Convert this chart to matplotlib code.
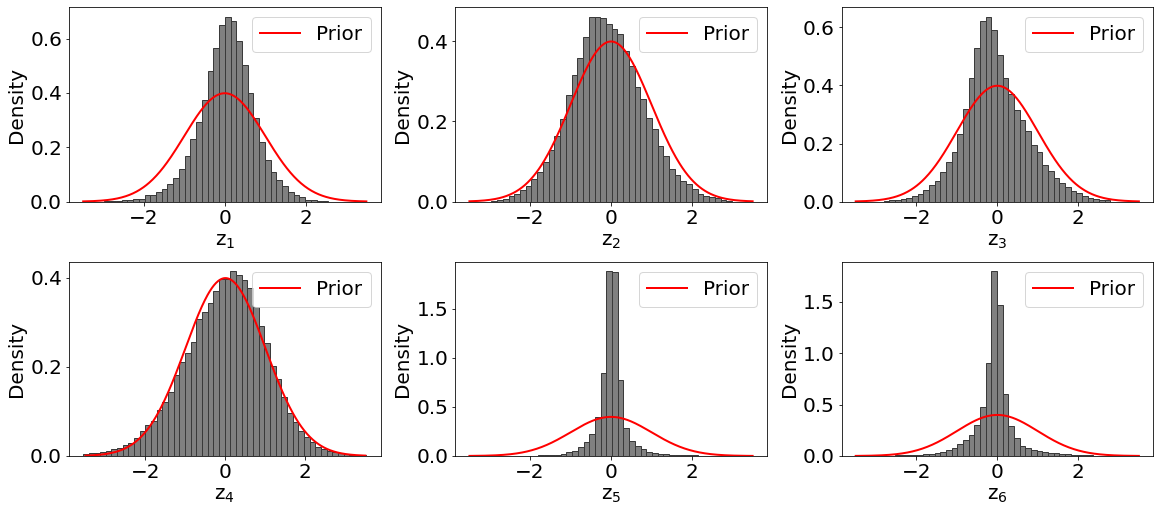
import numpy as np
import matplotlib
matplotlib.use("Agg")
import matplotlib.pyplot as plt

# ---- data ----
labels = ["z$_1$", "z$_2$", "z$_3$", "z$_4$", "z$_5$", "z$_6$"]

bin_start = [-2.975, -2.959, -2.808, -3.559, -1.808, -2.528]
bin_width = [0.1417, 0.1417, 0.140, 0.1417, 0.141, 0.140]

dens_z1 = [0.002, 0.003, 0.004, 0.006, 0.007, 0.010, 0.011, 0.025, 0.025, 0.036,
           0.047, 0.064, 0.088, 0.120, 0.169, 0.231, 0.292, 0.375, 0.481, 0.566,
           0.650, 0.681, 0.666, 0.591, 0.503, 0.401, 0.308, 0.221, 0.153, 0.108,
           0.079, 0.056, 0.037, 0.026, 0.016, 0.007, 0.006, 0.004, 0.002]
dens_z2 = [0.0025, 0.005, 0.0075, 0.013, 0.019, 0.029, 0.040, 0.056, 0.073, 0.098,
           0.129, 0.164, 0.206, 0.266, 0.316, 0.359, 0.411, 0.459, 0.461, 0.457,
           0.442, 0.430, 0.417, 0.376, 0.339, 0.286, 0.256, 0.208, 0.181, 0.138,
           0.114, 0.081, 0.067, 0.052, 0.044, 0.032, 0.019, 0.015, 0.012, 0.008,
           0.005, 0.0025]
dens_z3 = [0.002, 0.005, 0.007, 0.010, 0.014, 0.020, 0.025, 0.041, 0.057, 0.072,
           0.102, 0.138, 0.170, 0.233, 0.319, 0.426, 0.529, 0.621, 0.637, 0.591,
           0.505, 0.426, 0.371, 0.317, 0.282, 0.242, 0.195, 0.170, 0.127, 0.107,
           0.081, 0.065, 0.052, 0.038, 0.029, 0.018, 0.013, 0.009, 0.007, 0.005]
dens_z4 = [0.0045, 0.0067, 0.0075, 0.0097, 0.012, 0.015, 0.019, 0.025, 0.030, 0.041,
           0.056, 0.070, 0.079, 0.103, 0.122, 0.144, 0.182, 0.210, 0.230, 0.255,
           0.307, 0.322, 0.342, 0.369, 0.396, 0.397, 0.415, 0.406, 0.395, 0.376,
           0.335, 0.292, 0.253, 0.202, 0.173, 0.133, 0.097, 0.077, 0.055, 0.043,
           0.032, 0.021, 0.015, 0.011, 0.008, 0.006, 0.004, 0.003, 0.002, 0.0015]
dens_z5 = [0.007, 0.007, 0.010, 0.014, 0.020, 0.041, 0.054, 0.092, 0.139, 0.224,
           0.401, 0.844, 1.888, 1.874, 0.776, 0.282, 0.153, 0.102, 0.071, 0.044,
           0.034, 0.024, 0.017, 0.014, 0.010, 0.007, 0.007, 0.007, 0.003]
dens_z6 = [0.006, 0.006, 0.006, 0.006, 0.010, 0.016, 0.019, 0.026, 0.039, 0.058,
           0.081, 0.117, 0.155, 0.204, 0.301, 0.473, 0.901, 1.798, 1.467, 0.599,
           0.288, 0.172, 0.097, 0.075, 0.058, 0.045, 0.036, 0.029, 0.026, 0.019,
           0.016, 0.013, 0.010, 0.006, 0.006]
densities = [dens_z1, dens_z2, dens_z3, dens_z4, dens_z5, dens_z6]

# standard normal prior
prior_mean = 0.0
prior_std = 1.0
prior_range = (-3.5, 3.5)

# ---- figure ----
plt.rcParams['font.size'] = 20
plt.rcParams['font.family'] = ['DejaVu Sans']

fig, axes = plt.subplots(2, 3, figsize=(1160 / 72, 512 / 72), dpi=72)
fig.subplots_adjust(left=0.0595, right=0.994, top=0.9857, bottom=0.1094,
                    wspace=0.24, hspace=0.309)

xp = np.linspace(prior_range[0], prior_range[1], 400)
yp = np.exp(-0.5 * ((xp - prior_mean) / prior_std) ** 2) / (prior_std * np.sqrt(2 * np.pi))

for ax, lab, dens, x0, w in zip(axes.flat, labels, densities, bin_start, bin_width):
    dens = np.asarray(dens)
    edges = x0 + w * np.arange(len(dens) + 1)
    ax.hist(edges[:-1], bins=edges, weights=dens, facecolor='#808080',
            edgecolor='#3a3a3a', linewidth=1.0)
    ax.plot(xp, yp, color='red', lw=2, label='Prior')
    ax.set_xlabel(lab)
    ax.set_ylabel('Density')
    ax.legend(loc='upper right')

fig.savefig('out.png', dpi=72)
